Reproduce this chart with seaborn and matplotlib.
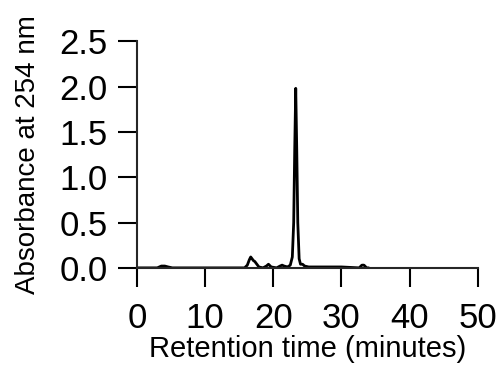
import numpy as np
import pandas as pd
import seaborn as sns
import matplotlib.pyplot as plt

# chromatogram trace
time_min = [0.0, 3.0, 3.6, 4.1, 4.6, 5.2, 10.0, 15.8, 16.2, 16.5, 16.7, 16.9, 17.1, 17.3, 17.6, 17.9,
            18.5, 19.0, 19.3, 19.7, 20.5, 21.0, 21.3, 21.6, 22.1, 22.5, 22.8, 23.0, 23.15, 23.3,
            23.45, 23.6, 23.8, 24.0, 24.3, 24.6, 25.2, 26.5, 28.0, 30.0, 32.6, 33.0, 33.3, 33.7, 34.0]
absorbance = [0.0, 0.0, 0.02, 0.02, 0.01, 0.0, 0.0, 0.0, 0.03, 0.09, 0.12, 0.1, 0.08, 0.07, 0.04, 0.01,
              0.0, 0.02, 0.04, 0.01, 0.0, 0.02, 0.03, 0.02, 0.01, 0.03, 0.12, 0.5, 1.3, 1.98,
              1.3, 0.5, 0.1, 0.04, 0.04, 0.02, 0.01, 0.01, 0.01, 0.01, 0.0, 0.03, 0.03, 0.0, 0.0]
x_ticks = [0, 10, 20, 30, 40, 50]
y_ticks = [0.0, 0.5, 1.0, 1.5, 2.0, 2.5]

df = pd.DataFrame({'Time': time_min, 'Abs': absorbance})

sns.set_style('ticks')
plt.rcParams['font.family'] = ['Liberation Sans', 'DejaVu Sans']
plt.rcParams['axes.linewidth'] = 1.5

fig, ax = plt.subplots(figsize=(5.03, 3.71), dpi=100)
fig.subplots_adjust(left=0.272, right=0.950, top=0.889, bottom=0.278)

sns.lineplot(data=df, x='Time', y='Abs', color='black', linewidth=2.0, ax=ax)

ax.set_xlim(0, 50)
ax.set_ylim(0, 2.5)
ax.set_xticks(x_ticks)
ax.set_yticks(y_ticks)
ax.set_yticklabels([f'{v:.1f}' for v in y_ticks])
ax.tick_params(axis='both', length=13.5, width=1.5, labelsize=25, colors='black', pad=7.5)
ax.tick_params(axis='x', pad=11)
ax.set_xlabel('Retention time (minutes)', fontsize=21, labelpad=0, color='black')
ax.set_ylabel('Absorbance at 254 nm', fontsize=20, labelpad=13.5, color='black')
sns.despine(ax=ax)

plt.savefig('out.png', dpi=100)
